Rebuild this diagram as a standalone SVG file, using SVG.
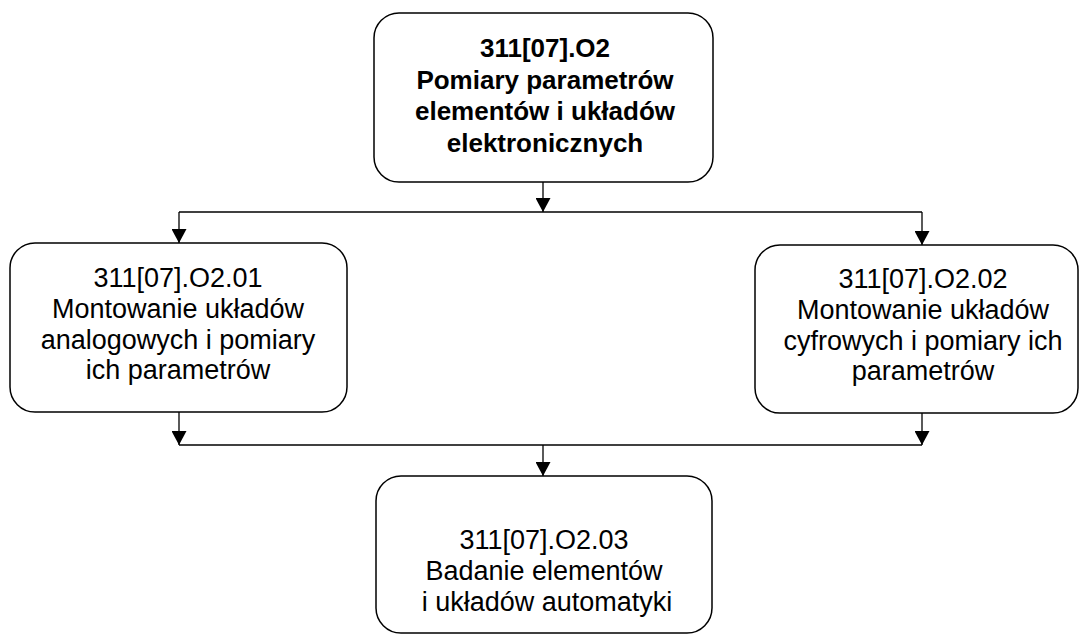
<svg xmlns="http://www.w3.org/2000/svg" width="1080" height="638" viewBox="0 0 1080 638">
  <style>
    .box { fill: #ffffff; stroke: #000000; stroke-width: 1.5; }
    .wire { fill: none; stroke: #000000; stroke-width: 1.3; }
    .t { font-family: "Liberation Sans", Arial, sans-serif; font-size: 27px; fill: #000000; text-anchor: middle; }
    .b { font-weight: bold; font-size: 26px; }
  </style>
  <defs>
    <marker id="arrow" viewBox="0 0 14 15" refX="14" refY="7.5" markerWidth="14" markerHeight="15" markerUnits="userSpaceOnUse" orient="auto">
      <path d="M0,0 L14,7.5 L0,15 Z" fill="#000000"/>
    </marker>
  </defs>
  <rect width="1080" height="638" fill="#ffffff"/>

  <g id="connectors">
    <line class="wire" x1="543" y1="182" x2="543" y2="212" marker-end="url(#arrow)"/>
    <line class="wire" x1="179" y1="212" x2="922" y2="212"/>
    <line class="wire" x1="179" y1="212" x2="179" y2="243" marker-end="url(#arrow)"/>
    <line class="wire" x1="922" y1="212" x2="922" y2="245" marker-end="url(#arrow)"/>
    <line class="wire" x1="179" y1="412" x2="179" y2="445" marker-end="url(#arrow)"/>
    <line class="wire" x1="922" y1="413" x2="922" y2="445" marker-end="url(#arrow)"/>
    <line class="wire" x1="179" y1="445" x2="922" y2="445"/>
    <line class="wire" x1="543" y1="445" x2="543" y2="476" marker-end="url(#arrow)"/>
  </g>

  <g id="node-o2">
    <rect class="box" x="374" y="13" width="339" height="169" rx="25" ry="25"/>
    <text class="t b" x="545" y="57">311[07].O2</text>
    <text class="t b" x="545" y="88.5">Pomiary parametrów</text>
    <text class="t b" x="545" y="120">elementów i układów</text>
    <text class="t b" x="545" y="151.5">elektronicznych</text>
  </g>

  <g id="node-o2-01">
    <rect class="box" x="10" y="243" width="337" height="169" rx="25" ry="25"/>
    <text class="t" x="178" y="287">311[07].O2.01</text>
    <text class="t" x="178" y="318">Montowanie układów</text>
    <text class="t" x="178" y="348.5">analogowych i pomiary</text>
    <text class="t" x="178" y="379">ich parametrów</text>
  </g>

  <g id="node-o2-02">
    <rect class="box" x="755" y="245" width="323" height="168" rx="25" ry="25"/>
    <text class="t" x="923" y="288">311[07].O2.02</text>
    <text class="t" x="923" y="319">Montowanie układów</text>
    <text class="t" x="923" y="349.5">cyfrowych i pomiary ich</text>
    <text class="t" x="923" y="380">parametrów</text>
  </g>

  <g id="node-o2-03">
    <rect class="box" x="376" y="476" width="336" height="157" rx="25" ry="25"/>
    <text class="t" x="544" y="549">311[07].O2.03</text>
    <text class="t" x="544" y="580">Badanie elementów</text>
    <text class="t" x="547" y="611">i układów automatyki</text>
  </g>
</svg>
